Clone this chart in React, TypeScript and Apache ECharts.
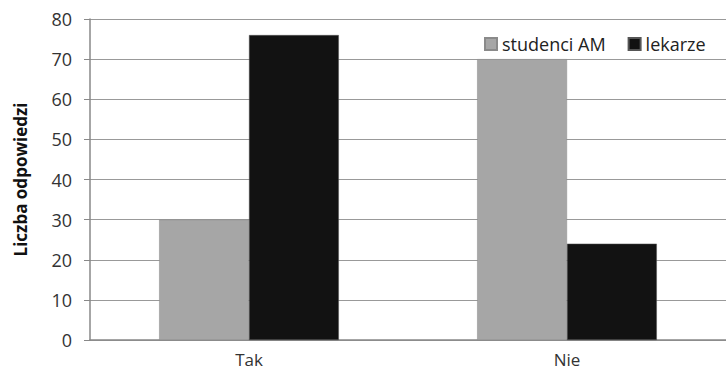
import React, { useEffect, useRef } from "react";
import * as echarts from "echarts";

const categories = ["Tak", "Nie"];
const studenci = [30, 70];
const lekarze = [76, 24];
const seriesNames = ["studenci AM", "lekarze"];
const yTitle = "Liczba odpowiedzi";

export default function App() {
  const ref = useRef<HTMLDivElement>(null);
  useEffect(() => {
    const chart = echarts.init(ref.current!, null, { renderer: "svg" });
    const font = "'Open Sans', sans-serif";
    chart.setOption({
      animation: false,
      backgroundColor: "#fff",
      textStyle: { fontFamily: font },
      grid: { left: 90, top: 19, width: 641, height: 321, containLabel: false },
      legend: {
        data: seriesNames,
        left: 479,
        top: 30,
        itemWidth: 12,
        itemHeight: 12,
        itemGap: 22,
        icon: "rect",
        textStyle: { fontSize: 18, color: "#222", fontFamily: font },
      },
      xAxis: {
        type: "category",
        data: categories,
        axisLine: { lineStyle: { color: "#888", width: 1.5 } },
        axisTick: { show: false },
        axisLabel: { fontSize: 17, color: "#333", margin: 11 },
      },
      yAxis: {
        type: "value",
        min: 0,
        max: 80,
        interval: 10,
        name: yTitle,
        nameLocation: "middle",
        nameGap: 61,
        nameTextStyle: { fontSize: 17, fontWeight: "bold", color: "#111", fontFamily: font },
        axisLine: { show: true, lineStyle: { color: "#888", width: 1.5 } },
        axisTick: { show: true, length: 6, lineStyle: { color: "#888" } },
        axisLabel: { fontSize: 18, color: "#333", margin: 18 },
        splitLine: { lineStyle: { color: "#999", width: 1.2 } },
      },
      series: [
        {
          name: seriesNames[0],
          type: "bar",
          data: studenci,
          itemStyle: { color: "#a6a6a6", borderColor: "#8a8a8a", borderWidth: 0.5 },
          barGap: "0%",
          barCategoryGap: "43.5%",
        },
        {
          name: seriesNames[1],
          type: "bar",
          data: lekarze,
          itemStyle: { color: "#121212", borderColor: "#555", borderWidth: 0.5 },
        },
      ],
    });
    return () => chart.dispose();
  }, []);
  return <div ref={ref} style={{ width: 726, height: 371, position: "absolute", left: 0, top: 0 }} />;
}
